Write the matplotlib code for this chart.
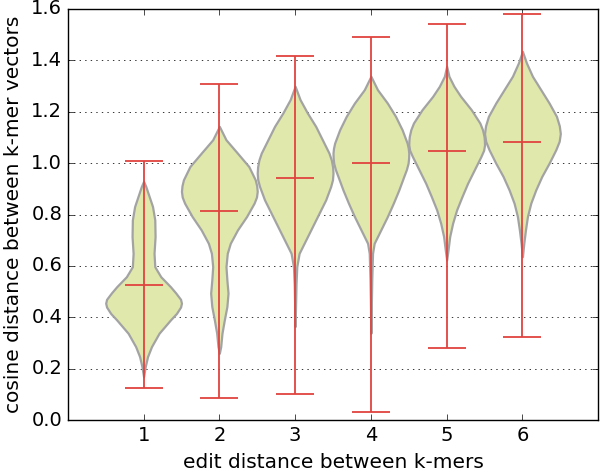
import numpy as np
import matplotlib
matplotlib.use("Agg")
import matplotlib.pyplot as plt

positions = [1, 2, 3, 4, 5, 6]
means = [0.527, 0.815, 0.944, 1.001, 1.048, 1.082]
mins = [0.126, 0.087, 0.100, 0.032, 0.281, 0.324]
maxs = [1.008, 1.307, 1.418, 1.492, 1.541, 1.581]

# density profiles: y positions and half-widths
coords1 = [0.169, 0.208, 0.247, 0.286, 0.338, 0.390, 0.415, 0.440, 0.455, 0.470, 0.495, 0.519,
           0.558, 0.597, 0.649, 0.714, 0.779, 0.831, 0.870, 0.909, 0.929]
vals1 = [0, 0.022, 0.053, 0.106, 0.207, 0.36, 0.44, 0.495, 0.507, 0.495, 0.43, 0.36,
         0.23, 0.15, 0.14, 0.154, 0.15, 0.12, 0.075, 0.03, 0]
coords2 = [0.26, 0.286, 0.338, 0.390, 0.442, 0.494, 0.545, 0.597, 0.649, 0.688, 0.740, 0.792,
           0.844, 0.868, 0.890, 0.912, 0.935, 0.987, 1.039, 1.091, 1.143]
vals2 = [0, 0.018, 0.035, 0.066, 0.10, 0.115, 0.10, 0.088, 0.105, 0.145, 0.24, 0.36,
         0.46, 0.492, 0.502, 0.495, 0.476, 0.39, 0.24, 0.088, 0]
coords3 = [0.364, 0.45, 0.53, 0.597, 0.649, 0.701, 0.753, 0.805, 0.857, 0.909, 0.935, 0.961,
           0.985, 1.012, 1.039, 1.091, 1.143, 1.195, 1.247, 1.299]
vals3 = [0, 0.006, 0.012, 0.022, 0.053, 0.141, 0.229, 0.317, 0.405, 0.471, 0.495, 0.502,
         0.497, 0.48, 0.449, 0.361, 0.273, 0.163, 0.066, 0]
coords4 = [0.338, 0.45, 0.55, 0.649, 0.688, 0.740, 0.792, 0.844, 0.896, 0.948, 0.975, 1.0,
           1.02, 1.039, 1.058, 1.078, 1.130, 1.182, 1.234, 1.286, 1.338]
vals4 = [0, 0.006, 0.012, 0.022, 0.044, 0.132, 0.22, 0.30, 0.374, 0.44, 0.475, 0.498,
         0.505, 0.507, 0.50, 0.485, 0.418, 0.33, 0.22, 0.088, 0]
coords5 = [0.623, 0.662, 0.714, 0.766, 0.818, 0.870, 0.922, 0.974, 1.026, 1.050, 1.071, 1.088,
           1.104, 1.130, 1.156, 1.208, 1.260, 1.299, 1.338, 1.377]
vals5 = [0, 0.018, 0.04, 0.079, 0.132, 0.203, 0.278, 0.366, 0.454, 0.49, 0.502, 0.50,
         0.495, 0.475, 0.44, 0.326, 0.185, 0.097, 0.03, 0]
coords6 = [0.636, 0.688, 0.740, 0.792, 0.844, 0.896, 0.948, 1.0, 1.052, 1.085, 1.115, 1.145,
           1.182, 1.234, 1.286, 1.338, 1.39, 1.435]
vals6 = [0, 0.018, 0.04, 0.066, 0.11, 0.176, 0.255, 0.352, 0.44, 0.485, 0.50, 0.487,
         0.449, 0.352, 0.242, 0.132, 0.053, 0]

all_coords = [coords1, coords2, coords3, coords4, coords5, coords6]
all_vals = [vals1, vals2, vals3, vals4, vals5, vals6]

plt.style.use("classic")
plt.rcParams["font.family"] = ["DejaVu Sans"]

fig = plt.figure(figsize=(6.0, 4.72), dpi=100)
fig.patch.set_facecolor("white")
ax = fig.add_axes([0.113, 0.110, 0.884, 0.871])

vpstats = []
for c, v, mn, lo, hi in zip(all_coords, all_vals, means, mins, maxs):
    vpstats.append({"coords": np.array(c), "vals": np.array(v), "mean": mn,
                    "median": mn, "min": lo, "max": hi, "quantiles": []})

parts = ax.violin(vpstats, positions=positions, widths=1.0, showmeans=True,
                  showextrema=True, showmedians=False)
for b in parts["bodies"]:
    b.set_facecolor("#e1e8ab")
    b.set_edgecolor("#a3a3a3")
    b.set_linewidth(1.6)
    b.set_joinstyle("round")
    b.set_alpha(1)
for key in ("cmeans", "cmins", "cmaxes", "cbars"):
    parts[key].set_color("#e0433f")
    parts[key].set_linewidth(1.3)

ax.set_xlim(0, 7)
ax.set_ylim(0, 1.6)
ax.set_xticks(positions)
ax.set_yticks(np.arange(0, 1.61, 0.2))
ax.yaxis.grid(True, linestyle=":", color="#333333", linewidth=0.7)
ax.xaxis.grid(False)
ax.set_axisbelow(True)
ax.tick_params(labelsize=14, direction="in", top=True, right=True)
ax.set_xlabel("edit distance between k-mers", fontsize=14.5, labelpad=6)
ax.set_ylabel("cosine distance between k-mer vectors", fontsize=14.5, labelpad=6)
for s in ax.spines.values():
    s.set_linewidth(1.0)

fig.savefig("out.png", dpi=100, facecolor="white")
